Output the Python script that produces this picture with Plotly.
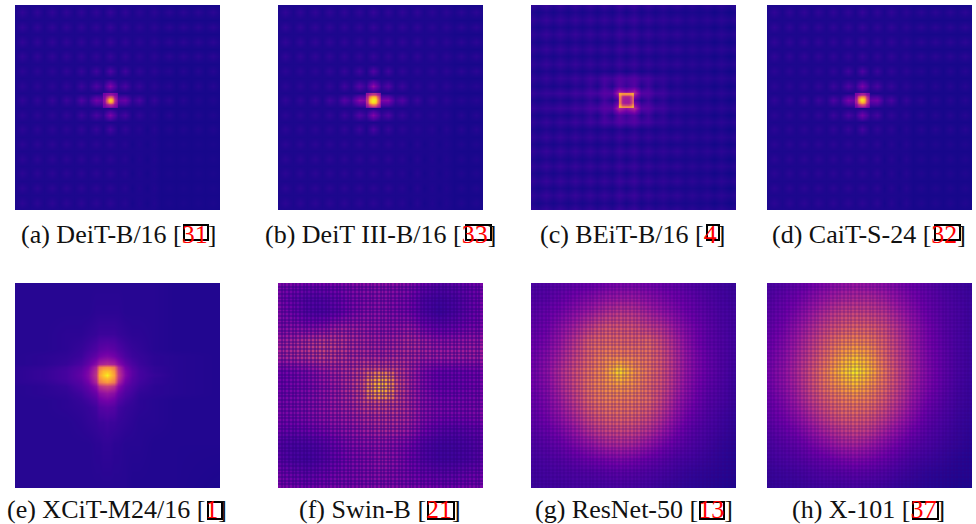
import plotly.graph_objects as go

W, H = 976, 524

# ---------- data, 0-100 on the plasma ramp ----------
# panels a-d: half-patch knots (29 per side), odd index = patch centre
a_gap  = [3,3,3,3,3,3,3,3,3,3,3,3,3,3,3,3,3,3,3,3,2,2,2,2,2,2,2,2,2]
a_top  = [3,7,3,7,3,7,3,7,3,7,3,7,3,8,3,7,3,6,3,6,3,6,3,6,3,6,3,6,3]
a_near = [3,6,3,6,3,6,3,7,3,8,3,10,3,13,3,10,3,7,3,6,3,5,2,5,2,5,2,5,2]
a_adj  = [3,6,3,6,3,6,3,7,3,9,4,13,6,26,6,12,4,8,3,6,3,5,2,5,2,5,2,5,2]
a_mid  = [3,7,3,7,3,8,3,9,4,13,6,22,16,30,16,20,6,12,3,8,3,6,2,5,2,4,2,4,2]
a_adj2 = [3,6,3,6,3,6,3,7,3,9,4,12,6,24,6,11,3,7,3,5,2,5,2,4,2,4,2,4,2]
a_nr2  = [3,6,3,6,3,6,3,6,3,7,3,8,3,11,3,7,3,5,2,5,2,4,2,4,2,4,2,4,2]
a_low  = [3,6,3,6,3,6,3,6,3,6,3,6,3,6,3,5,2,4,2,4,2,3,2,3,2,3,2,3,2]
a_grid = [a_gap,a_top,a_gap,a_top,a_gap,a_top,a_gap,a_top,a_gap,a_near,a_gap,a_adj,a_gap,a_mid,
          a_gap,a_adj2,a_gap,a_nr2,a_gap,a_low,a_gap,a_low,a_gap,a_low,a_gap,a_low,a_gap,a_low,a_gap]
a_core = [[22,24,26,28,30,28,26,24,22],
          [24,28,32,38,42,38,32,28,24],
          [26,32,42,54,62,54,42,32,26],
          [28,38,54,78,88,76,54,38,28],
          [30,42,62,88,97,86,60,42,30],
          [28,38,54,76,84,74,52,36,28],
          [26,32,42,52,60,52,42,32,26],
          [24,28,32,36,40,36,32,28,24],
          [22,24,26,28,30,28,26,24,22]]

b_gap  = [3,3,3,3,3,3,3,3,3,3,3,3,3,3,3,3,3,3,3,3,3,3,3,3,2,2,2,2,2]
b_top  = [3,7,3,7,3,7,3,7,3,7,3,7,3,8,3,7,3,7,3,7,3,6,3,6,3,6,3,6,3]
b_near = [3,6,3,6,3,6,3,7,3,8,3,10,3,14,3,10,3,7,3,6,3,6,3,6,3,6,3,6,3]
b_adj  = [3,6,3,6,3,6,3,7,3,10,4,15,7,30,7,14,4,9,3,6,3,6,3,6,3,5,3,5,3]
b_mid  = [3,7,3,7,3,8,3,10,5,15,8,28,24,40,24,26,8,14,4,9,3,7,3,6,3,5,3,5,3]
b_adj2 = [3,6,3,6,3,6,3,7,3,9,4,14,7,26,7,13,4,8,3,6,3,5,3,5,2,5,2,5,2]
b_nr2  = [3,6,3,6,3,6,3,6,3,7,3,9,3,12,3,8,3,6,3,5,3,5,2,5,2,5,2,5,2]
b_low  = [3,6,3,6,3,6,3,6,3,6,3,6,3,6,3,6,3,5,2,5,2,4,2,4,2,4,2,4,2]
b_grid = [b_gap,b_top,b_gap,b_top,b_gap,b_top,b_gap,b_top,b_gap,b_near,b_gap,b_adj,b_gap,b_mid,
          b_gap,b_adj2,b_gap,b_nr2,b_gap,b_low,b_gap,b_low,b_gap,b_low,b_gap,b_low,b_gap,b_low,b_gap]
b_core = [[30,34,38,42,44,42,38,34,30],
          [34,44,54,62,66,62,54,44,34],
          [38,54,72,84,88,84,72,54,38],
          [42,62,84,94,97,94,84,62,42],
          [44,66,88,97,99,96,86,64,44],
          [42,62,84,94,96,92,82,60,40],
          [38,54,70,82,86,82,70,52,36],
          [34,42,52,60,64,60,52,42,34],
          [28,32,36,40,42,40,36,32,28]]

c_cell  = [4,2,4,2,4,2,4,2,4,2,4,2,5,2,5,2,4,2,4,2,3,2,3,2,3,1,3,1,3]
c_line  = [7,5,8,5,8,5,8,5,8,5,8,5,9,6,9,5,8,5,7,5,7,4,6,4,6,4,6,4,6]
c_lineb = [7,5,8,5,8,6,9,6,10,7,12,9,15,11,15,9,11,7,8,5,7,4,6,4,6,4,6,4,6]
c_linec = [8,6,8,7,9,7,10,8,12,10,16,14,40,30,40,14,15,9,10,6,7,5,6,4,6,4,6,4,6]
c_celln = [4,2,4,2,4,2,5,3,7,3,10,4,14,8,14,4,9,3,6,2,4,2,3,2,3,1,3,1,3]
c_grid  = [c_line,c_cell,c_line,c_cell,c_line,c_cell,c_line,c_cell,c_line,c_cell,c_lineb,c_celln,c_linec,c_celln,
           c_linec,c_celln,c_lineb,c_cell,c_line,c_cell,c_line,c_cell,c_line,c_cell,c_line,c_cell,c_line,c_cell,c_line]
c_core = [[80,76,74,74,74,74,74,76,82],
          [74,54,48,46,46,46,48,56,74],
          [68,46,38,36,36,36,38,46,66],
          [66,44,36,34,34,34,36,44,64],
          [66,44,36,34,34,34,36,44,64],
          [66,44,36,34,34,34,36,44,64],
          [68,46,38,36,36,36,38,46,68],
          [76,56,50,48,48,48,50,58,78],
          [86,80,78,78,78,78,78,80,88]]

d_gap  = [3,3,3,3,3,3,3,3,3,3,3,3,3,3,3,3,3,3,3,3,2,2,2,2,2,2,2,2,2]
d_top  = [3,7,3,7,3,7,3,7,3,7,3,7,3,8,3,7,3,7,3,6,3,6,3,6,3,6,3,6,3]
d_near = [3,6,3,6,3,6,3,6,3,7,3,10,3,13,3,9,3,7,3,6,3,5,2,5,2,5,2,5,2]
d_adj  = [3,6,3,6,3,6,3,7,3,9,4,13,6,24,6,12,4,8,3,6,3,5,2,5,2,5,2,5,2]
d_mid  = [3,7,3,7,3,8,3,9,4,13,6,24,18,34,18,22,6,12,3,8,3,6,2,5,2,5,2,5,2]
d_adj2 = [3,6,3,6,3,6,3,7,3,9,4,12,6,22,6,11,3,7,3,6,2,5,2,5,2,5,2,5,2]
d_nr2  = [3,6,3,6,3,6,3,6,3,7,3,8,3,11,3,7,3,6,2,5,2,5,2,5,2,5,2,5,2]
d_low  = [3,6,3,6,3,6,3,6,3,6,3,6,3,6,3,6,2,5,2,5,2,4,2,4,2,4,2,4,2]
d_grid = [d_gap,d_top,d_gap,d_top,d_gap,d_top,d_gap,d_top,d_gap,d_near,d_gap,d_adj,d_gap,d_mid,
          d_gap,d_adj2,d_gap,d_nr2,d_gap,d_low,d_gap,d_low,d_gap,d_low,d_gap,d_low,d_gap,d_low,d_gap]
d_core = [[24,26,30,34,36,34,30,26,24],
          [26,34,42,48,52,48,42,32,26],
          [30,44,60,72,76,70,56,40,30],
          [34,50,74,90,94,86,66,46,32],
          [36,52,76,94,98,88,70,48,34],
          [34,48,68,82,88,80,62,44,32],
          [30,40,54,64,70,62,50,38,28],
          [26,32,40,46,50,46,40,32,26],
          [22,26,30,32,34,32,30,26,22]]

# panel e: one grid on uneven knots, denser round the peak
e_knots = [0,2,3.5,4.5,5,5.5,5.75,6,6.25,6.5,6.75,7,7.5,8,8.5,9.5,11,14]
e_grid = [[5,5,5,5,5,5,5,5,5,5,5,5,5,5,5,5,4,4],
          [5,5,5,5,5,6,6,6,6,6,6,6,5,5,5,5,4,4],
          [5,5,6,6,7,8,9,9,9,9,9,8,7,6,6,5,4,4],
          [5,5,6,8,10,13,16,17,18,17,16,13,10,8,7,5,4,4],
          [5,6,7,9,13,18,22,24,25,24,22,18,12,9,8,6,5,4],
          [5,6,8,12,18,28,36,38,40,38,36,28,18,12,9,6,5,4],
          [6,7,10,15,22,38,66,72,74,72,66,40,22,14,10,7,5,4],
          [6,8,11,17,25,42,74,84,86,84,74,44,25,16,11,7,5,4],
          [6,8,11,18,26,44,78,88,98,88,78,46,26,16,11,8,5,4],
          [6,8,11,17,25,42,74,82,86,82,74,44,24,15,11,7,5,4],
          [6,7,10,15,22,38,66,72,76,72,66,38,21,14,10,7,5,4],
          [5,6,8,13,18,28,42,46,48,46,42,28,17,12,9,6,5,4],
          [5,6,7,10,14,20,28,30,32,30,28,20,13,10,7,6,5,4],
          [5,5,6,8,10,14,20,22,23,22,20,14,10,8,6,5,4,4],
          [5,5,6,7,8,10,14,15,16,15,14,10,8,7,6,5,4,4],
          [5,5,5,6,7,8,9,9,10,9,9,8,7,6,5,5,4,4],
          [5,5,5,5,5,6,6,7,7,7,6,6,5,5,5,4,4,4],
          [5,5,5,5,5,5,5,5,5,5,5,5,5,4,4,4,4,3]]

# panels f-h: knots at patch boundaries (15 per side)
f_grid = [[25,25,23,23,25,27,29,30,29,27,20,15,17,20,24],
          [25,20,15,15,20,25,27,29,27,24,13,10,12,18,24],
          [27,22,15,13,18,25,29,29,27,24,13,8,12,18,24],
          [27,29,27,29,36,36,34,32,32,34,24,18,20,24,25],
          [36,39,44,48,46,42,39,37,39,42,37,32,32,34,34],
          [37,41,44,49,46,42,41,39,42,41,37,36,36,36,36],
          [22,24,27,34,39,44,53,54,51,39,27,20,20,22,24],
          [22,24,25,31,36,44,58,61,58,39,27,20,20,22,24],
          [24,25,27,31,36,41,53,56,51,39,29,24,24,24,25],
          [25,25,27,31,34,37,42,44,44,39,29,25,24,25,27],
          [22,20,22,25,29,32,36,39,39,34,24,17,15,17,20],
          [15,12,12,15,22,27,29,31,29,24,14,10,10,12,17],
          [17,12,10,14,20,25,27,31,29,22,14,10,10,12,17],
          [24,20,17,20,24,25,27,29,27,24,20,17,17,20,22],
          [25,24,22,24,25,25,27,27,27,25,24,22,22,24,24]]
f_core = [[60,64,68,70,70,68,64,60],
          [64,70,74,76,76,74,70,64],
          [68,74,78,80,82,78,74,68],
          [68,76,80,84,84,80,74,68],
          [70,76,82,86,84,80,74,68],
          [70,76,80,82,82,78,72,68],
          [68,74,76,78,78,74,70,66],
          [62,68,70,72,72,70,66,62]]

g_grid = [[12,14,16,18,20,22,24,24,22,20,18,14,12,10,8],
          [14,16,20,24,28,32,34,34,30,26,22,18,14,11,9],
          [16,20,24,30,36,42,46,44,38,32,26,20,16,12,10],
          [18,22,30,38,48,56,56,54,48,42,32,24,18,13,10],
          [20,25,34,46,60,62,62,60,62,50,38,26,18,14,10],
          [22,28,38,50,62,70,70,68,64,54,40,28,20,14,10],
          [22,30,42,54,66,74,94,76,66,54,40,28,20,14,9],
          [22,28,40,52,66,72,76,72,62,52,38,26,18,13,8],
          [20,26,36,48,62,68,68,66,62,48,34,24,16,12,8],
          [18,24,32,42,54,60,62,60,54,42,30,20,14,10,7],
          [16,20,26,34,44,50,52,50,44,34,24,16,12,9,6],
          [13,16,20,26,32,38,40,38,32,24,18,13,10,7,5],
          [11,13,15,18,22,24,26,24,20,16,12,10,8,6,4],
          [10,11,12,13,14,15,16,15,13,11,9,7,6,5,4],
          [9,10,10,11,11,11,12,11,10,8,7,6,5,4,3]]

h_grid = [[12,14,18,22,26,30,32,30,28,24,20,16,12,10,8],
          [14,18,22,28,34,38,40,40,36,30,24,18,14,11,9],
          [16,20,26,34,42,48,50,48,44,36,28,20,15,12,9],
          [18,23,31,40,50,56,60,58,52,42,32,23,16,12,9],
          [20,26,35,46,58,68,72,68,58,46,34,24,17,12,9],
          [22,28,38,50,64,78,86,78,62,48,36,25,18,12,9],
          [23,30,40,54,70,86,97,84,66,50,37,26,18,12,9],
          [22,29,38,52,66,76,84,74,62,48,35,25,17,11,8],
          [20,26,35,47,58,66,70,66,56,44,32,22,15,10,8],
          [18,23,30,40,50,58,60,56,48,38,28,18,13,9,7],
          [15,19,24,32,40,46,50,46,38,30,22,15,11,8,6],
          [12,15,18,24,30,36,38,34,28,22,16,12,9,7,5],
          [10,12,14,17,20,24,26,24,20,15,11,9,7,5,4],
          [8,9,10,12,14,15,16,15,13,10,8,6,5,4,4],
          [7,8,8,9,10,10,11,10,9,7,6,5,4,3,3]]

names = ["(a) DeiT-B/16 [", "(b) DeiT III-B/16 [", "(c) BEiT-B/16 [", "(d) CaiT-S-24 [",
         "(e) XCiT-M24/16 [", "(f) Swin-B [", "(g) ResNet-50 [", "(h) X-101 ["]
refs = ["31", "33", "4", "32", "1", "21", "13", "37"]

# ---------- layout (pixels) ----------
left = [15, 278, 531, 767, 15, 278, 531, 767]
top = [5, 5, 5, 5, 283, 283, 283, 283]
side = 205
cap_x = [118, 380, 632, 869, 117, 380, 634, 868]
cap_y = [234, 234, 234, 234, 509, 509, 509, 509]
box_x = [(184, 208), (466, 491), (707, 719), (935, 960), (208, 222), (428, 454), (700, 724), (913, 938)]
box_y = [(225, 240), (225, 240), (225, 240), (225, 240), (502, 519), (502, 519), (502, 519), (502, 519)]

half = [k / 2 for k in range(29)]
whole = list(range(15))
# (grid, knots, core, core origin, core step)
panels = [(a_grid, half, a_core, 6, 1/9), (b_grid, half, b_core, 6, 1/9), (c_grid, half, c_core, 6, 1/9),
          (d_grid, half, d_core, 6, 1/9), (e_grid, e_knots, None, 0, 0), (f_grid, whole, f_core, 6, .25),
          (g_grid, whole, None, 0, 0), (h_grid, whole, None, 0, 0)]
# the fine lattice seen over panels f, g, h is drawn as axis grid lines
lattice = {5: "rgba(50,0,130,0.42)", 6: "rgba(50,0,130,0.2)", 7: "rgba(50,0,130,0.18)"}

fig = go.Figure()
layout = dict(width=W, height=H, margin=dict(l=0, r=0, t=0, b=0), autosize=False,
              paper_bgcolor="white", plot_bgcolor="rgba(0,0,0,0)", showlegend=False,
              coloraxis=dict(colorscale="Plasma", cmin=0, cmax=100, showscale=False))
annotations, shapes = [], []

for i, (grid, knots, core, c0, cstep) in enumerate(panels):
    n = str(i + 1)
    ax = dict(visible=False, fixedrange=True)
    dx = [left[i] / W, (left[i] + side) / W]
    dy = [1 - (top[i] + side) / H, 1 - top[i] / H]
    layout["xaxis" + n] = dict(ax, domain=dx, range=[0, 14], anchor="y" + n)
    layout["yaxis" + n] = dict(ax, domain=dy, range=[14, 0], anchor="x" + n)
    fig.add_trace(go.Heatmap(z=grid, x=knots, y=knots, coloraxis="coloraxis", zsmooth="best",
                             hoverinfo="skip", xaxis="x" + n, yaxis="y" + n))
    if core is not None:
        fig.add_trace(go.Heatmap(z=core, x0=c0 + cstep / 2, dx=cstep, y0=c0 + cstep / 2, dy=cstep,
                                 coloraxis="coloraxis", zsmooth="best", hoverinfo="skip",
                                 xaxis="x" + n, yaxis="y" + n))
    if i in lattice:
        m = str(i + 5)
        lat = dict(fixedrange=True, showticklabels=False, ticks="", showline=False, zeroline=False,
                   showgrid=True, gridcolor=lattice[i], gridwidth=1.6, tick0=0, dtick=0.25)
        layout["xaxis" + m] = dict(lat, domain=dx, range=[0, 14], anchor="y" + m)
        layout["yaxis" + m] = dict(lat, domain=dy, range=[14, 0], anchor="x" + m)
        fig.add_trace(go.Scatter(x=[], y=[], xaxis="x" + m, yaxis="y" + m, hoverinfo="skip"))
    annotations.append(dict(x=cap_x[i] / W, y=1 - cap_y[i] / H, xref="paper", yref="paper", showarrow=False,
                            xanchor="center", yanchor="middle",
                            text=f'{names[i]}<span style="color:#ff0000">{refs[i]}</span>]',
                            font=dict(family="Liberation Serif", size=26, color="#111111")))
    shapes.append(dict(type="rect", xref="paper", yref="paper", x0=box_x[i][0] / W, x1=box_x[i][1] / W,
                       y0=1 - box_y[i][1] / H, y1=1 - box_y[i][0] / H, line=dict(color="black", width=2)))

layout["annotations"] = annotations
layout["shapes"] = shapes
fig.update_layout(**layout)
fig.write_html("out.html", config=dict(displayModeBar=False),
               post_script="document.body.style.margin='0';")
